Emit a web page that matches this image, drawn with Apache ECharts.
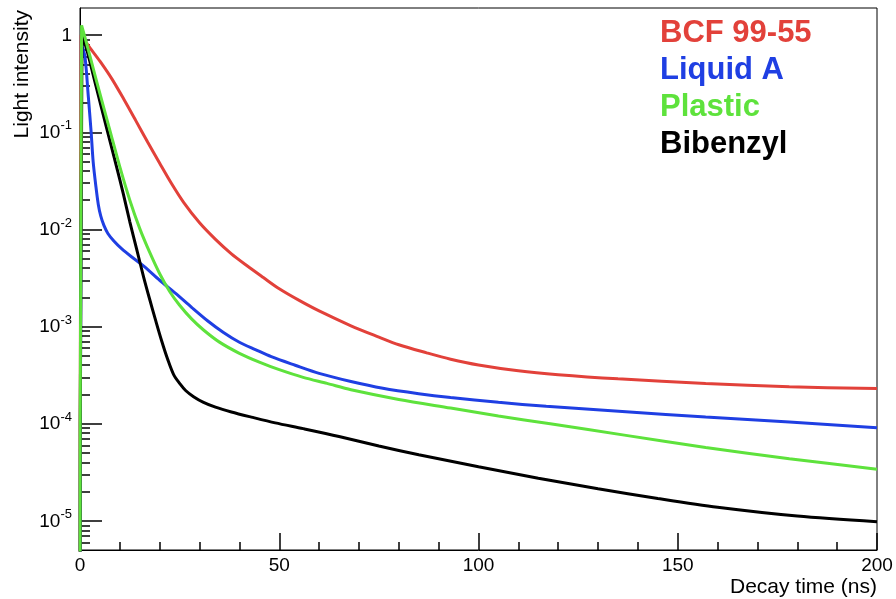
<!DOCTYPE html>
<html>
<head>
<meta charset="utf-8">
<script src="https://cdn.jsdelivr.net/npm/echarts@6/dist/echarts.min.js"></script>
<style>
html,body{margin:0;padding:0;background:#fff;}
#c{width:896px;height:599px;}
</style>
</head>
<body>
<div id="c"></div>
<script>
// Decay time (ns) and light intensity values
const redT   = [0, 0.3, 2, 5, 8, 11, 14, 17, 20, 23, 26, 30, 34, 38, 42, 46, 50, 55, 60, 68, 75, 80, 87, 93, 100, 110, 120, 135, 157, 178, 200];
const redV   = [1e-8, 1.0, 0.79, 0.54, 0.355, 0.219, 0.132, 0.079, 0.048, 0.0295, 0.019, 0.0117, 0.0079, 0.0056, 0.0042, 0.0032, 0.00245, 0.00186, 0.00145, 0.00102, 0.00078, 0.00065, 0.000537, 0.000462, 0.000403, 0.000351, 0.00032, 0.00029, 0.00026, 0.00024, 0.00023];

const blueT  = [0, 0.5, 1.25, 2.1, 2.8, 3.3, 4.0, 4.6, 5.2, 6, 7, 8.5, 10.5, 13, 16, 20, 24, 28, 32, 36, 40, 44, 48, 54, 60, 68, 76, 85, 93, 105, 117, 137, 157, 178, 200];
const blueV  = [1e-8, 0.79, 0.60, 0.23, 0.1, 0.050, 0.0275, 0.018, 0.0138, 0.011, 0.0091, 0.0076, 0.0063, 0.0052, 0.0042, 0.0030, 0.0022, 0.00158, 0.00115, 0.00087, 0.00069, 0.00058, 0.00049, 0.0004, 0.00033, 0.000272, 0.000232, 0.000204, 0.000186, 0.000166, 0.000151, 0.000133, 0.000117, 0.000104, 0.000091];

const greenT = [0, 0.4, 1.7, 4, 7.5, 10, 12.5, 15, 17.5, 20, 22.5, 25, 28, 31, 35, 40, 45, 50, 56, 62, 68, 80, 93, 105, 118, 137, 157, 178, 200];
const greenV = [1e-8, 1.26, 0.81, 0.355, 0.105, 0.044, 0.020, 0.0102, 0.0058, 0.0035, 0.0023, 0.00166, 0.0012, 0.000923, 0.000692, 0.000531, 0.000431, 0.00036, 0.0003, 0.00026, 0.000224, 0.000178, 0.000145, 0.00012, 0.0001, 0.0000759, 0.0000569, 0.0000437, 0.000034];

const blackT = [0, 0.5, 1.7, 4, 6.7, 9, 10.9, 12.5, 14.2, 16, 17.5, 19, 20.5, 22, 23.5, 25, 26.5, 28.5, 31, 34, 38, 43, 49, 56, 65, 75, 85, 100, 115, 130, 145, 160, 180, 200];
const blackV = [1e-8, 1.0, 0.71, 0.30, 0.11, 0.047, 0.023, 0.012, 0.0063, 0.0032, 0.0019, 0.00115, 0.00071, 0.00046, 0.00032, 0.00026, 0.00022, 0.00019, 0.000166, 0.000148, 0.000132, 0.000117, 0.000102, 0.000089, 0.000074, 0.000059, 0.000048, 0.000036, 0.0000275, 0.0000214, 0.000017, 0.0000138, 0.0000112, 0.0000098];

const seriesNames = ['BCF 99-55', 'Liquid A', 'Plastic', 'Bibenzyl'];
const seriesColors = ['#E2413A', '#1F3FE3', '#5EE23C', '#000000'];

const majorExp = [-5, -4, -3, -2, -1, 0];
const yMinLog = -5.3, yMaxLog = 0.28;

const minorTicks = [];
for (let e = -6; e <= 0; e++) {
  for (let k = 2; k <= 9; k++) {
    const v = Math.log10(k) + e;
    if (v > yMinLog && v < yMaxLog) minorTicks.push(v);
  }
}

function toData(ts, vs) { return ts.map((t, i) => [t, Math.log10(vs[i])]); }

const FONT = "'Liberation Sans', Arial, Helvetica, sans-serif";
const chart = echarts.init(document.getElementById('c'), null, {renderer: 'canvas'});

const curves = [
  {name: seriesNames[0], color: seriesColors[0], data: toData(redT, redV)},
  {name: seriesNames[1], color: seriesColors[1], data: toData(blueT, blueV)},
  {name: seriesNames[3], color: seriesColors[3], data: toData(blackT, blackV)},
  {name: seriesNames[2], color: seriesColors[2], data: toData(greenT, greenV)}
];

chart.setOption({
  animation: false,
  backgroundColor: '#fff',
  grid: {left: 80, right: 19, top: 8, bottom: 49, show: true, borderColor: '#000', borderWidth: 1, backgroundColor: 'transparent'},
  legend: {
    left: 650, top: 13, orient: 'vertical', icon: 'none', itemWidth: 0, itemHeight: 0, itemGap: 6,
    selectedMode: false,
    data: seriesNames.map((n, i) => ({name: n, textStyle: {color: seriesColors[i]}})),
    textStyle: {fontFamily: FONT, fontSize: 31, fontWeight: 'bold', lineHeight: 31}
  },
  xAxis: {
    type: 'value', min: 0, max: 200, interval: 50, position: 'bottom',
    name: 'Decay time (ns)', nameLocation: 'end', nameGap: 0,
    nameTextStyle: {fontFamily: FONT, fontSize: 21, color: '#000', align: 'right', verticalAlign: 'top', padding: [27, 0, 0, 0]},
    axisLine: {show: true, onZero: false, lineStyle: {color: '#000', width: 1}},
    axisTick: {show: true, inside: true, length: 17, lineStyle: {color: '#000', width: 1.5}},
    minorTick: {show: true, splitNumber: 5, length: 8, lineStyle: {color: '#000', width: 1.5}},
    axisLabel: {fontFamily: FONT, fontSize: 19, color: '#000', margin: 6},
    splitLine: {show: false}
  },
  yAxis: [{
    type: 'value', min: yMinLog, max: yMaxLog, position: 'left',
    name: 'Light intensity', nameLocation: 'end', nameGap: -2, nameRotate: 90,
    nameTextStyle: {fontFamily: FONT, fontSize: 21, color: '#000', align: 'right', verticalAlign: 'bottom', padding: [0, 0, 47, 0]},
    axisLine: {show: true, onZero: false, lineStyle: {color: '#000', width: 1}},
    axisTick: {show: true, inside: true, length: 22, customValues: majorExp, lineStyle: {color: '#000', width: 1.5}},
    axisLabel: {
      customValues: majorExp, margin: 8,
      formatter: v => (Math.round(v) === 0 ? '{b|1}' : '{b|10}{s|' + Math.round(v) + '}'),
      rich: {
        b: {fontFamily: FONT, fontSize: 19, lineHeight: 20, color: '#000', verticalAlign: 'bottom'},
        s: {fontFamily: FONT, fontSize: 13, lineHeight: 14, color: '#000', padding: [0, 0, 10, 0], verticalAlign: 'bottom'}
      }
    },
    splitLine: {show: false}
  }, {
    type: 'value', min: yMinLog, max: yMaxLog, position: 'left',
    axisLine: {show: false, onZero: false},
    axisTick: {show: true, inside: true, length: 10, customValues: minorTicks, lineStyle: {color: '#000', width: 1.5}},
    axisLabel: {show: false},
    splitLine: {show: false}
  }],
  series: curves.map(c => ({
    name: c.name, type: 'line', yAxisIndex: 0,
    data: c.data,
    showSymbol: false, symbol: 'none', smooth: 0.3, clip: true,
    lineStyle: {color: c.color, width: 3},
    itemStyle: {color: c.color}
  }))
});
</script>
</body>
</html>
